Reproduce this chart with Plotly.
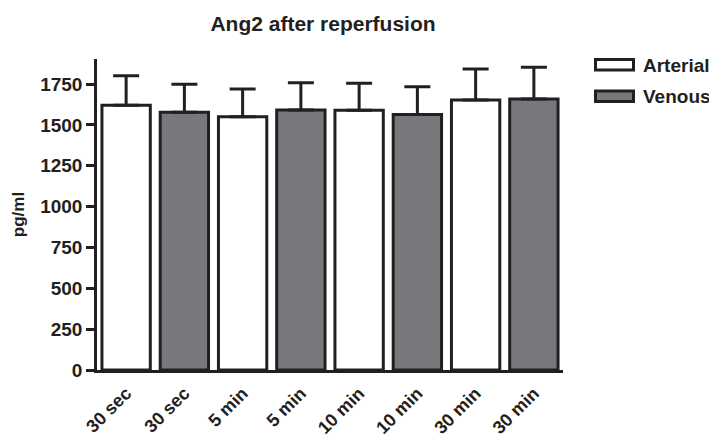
import plotly.graph_objects as go

# ---- data ----
categories = ["30 sec", "30 sec", "5 min", "5 min", "10 min", "10 min", "30 min", "30 min"]
arterial_idx = [0, 2, 4, 6]
venous_idx = [1, 3, 5, 7]
arterial_mean = [1620, 1550, 1590, 1652]
arterial_err = [180, 170, 165, 190]
venous_mean = [1577, 1591, 1564, 1658]
venous_err = [171, 167, 169, 194]
y_ticks = [0, 250, 500, 750, 1000, 1250, 1500, 1750]
series_names = ["Arterial", "Venous"]

OFF = 8  # page body margin
W, H = 717 - OFF, 437 - OFF
ML, MT = 97 - OFF, 59 - OFF
PW, PH = 466, 311
MR = W - ML - PW
MB = H - MT - PH
INK = "#231f20"
GRAY = "#77787c"
FONT = "Liberation Sans, Arial, sans-serif"

fig = go.Figure()
for idx, mean, err, fill, name in [
    (arterial_idx, arterial_mean, arterial_err, "white", series_names[0]),
    (venous_idx, venous_mean, venous_err, GRAY, series_names[1]),
]:
    fig.add_trace(go.Bar(
        x=idx, y=mean, name=name, width=0.83,
        marker=dict(color=fill, line=dict(color=INK, width=3)),
        error_y=dict(type="data", symmetric=False, array=err,
                     arrayminus=[0] * len(err), color=INK, thickness=3, width=13),
        showlegend=False,
    ))

# screen pixel -> paper coords
def px2x(px):
    return (px - OFF - ML) / PW
def py2y(py):
    return (MT + PH - (py - OFF)) / PH

legend_items = [(series_names[0], "white", 58, 71.5, 65), (series_names[1], GRAY, 89.5, 103, 96.5)]
shapes = []
annotations = []
for name, fill, y0, y1, yc in legend_items:
    shapes.append(dict(type="rect", xref="paper", yref="paper",
                       x0=px2x(595.5), x1=px2x(633.5), y0=py2y(y1 - 1.5), y1=py2y(y0 + 1.5),
                       fillcolor=fill, line=dict(color=INK, width=3)))
    annotations.append(dict(text="<b>%s</b>" % name, xref="paper", yref="paper",
                            x=px2x(641), y=py2y(yc), xanchor="left", yanchor="middle",
                            showarrow=False, font=dict(family=FONT, size=19, color=INK)))

fig.update_layout(
    width=W, height=H,
    margin=dict(l=ML, r=MR, t=MT, b=MB),
    paper_bgcolor="white", plot_bgcolor="white",
    barmode="overlay",
    title=dict(text="<b>Ang2 after reperfusion</b>", x=(323 - OFF) / W, xref="container",
               xanchor="center", y=1 - (24 - OFF) / H, yanchor="middle",
               font=dict(family=FONT, size=21, color=INK)),
    xaxis=dict(range=[-0.5, 7.5], tickvals=list(range(len(categories))),
               ticktext=["<b>%s</b>" % c for c in categories], tickangle=-45,
               showline=True, linecolor=INK, linewidth=2.5, ticks="",
               ticklabelstandoff=3,
               showgrid=False, zeroline=False, automargin=False,
               tickfont=dict(family=FONT, size=18, color=INK)),
    yaxis=dict(range=[0, 1903], tickvals=y_ticks,
               ticktext=["<b>%d</b>" % v for v in y_ticks],
               showline=True, linecolor=INK, linewidth=2.5,
               ticks="outside", ticklen=8, tickwidth=2.5, tickcolor=INK,
               showgrid=False, zeroline=False, automargin=False,
               tickfont=dict(family=FONT, size=19, color=INK),
               title=dict(text="<b>pg/ml</b>", standoff=12,
                          font=dict(family=FONT, size=17, color=INK))),
    shapes=shapes, annotations=annotations,
)

fig.write_html("out.html")
